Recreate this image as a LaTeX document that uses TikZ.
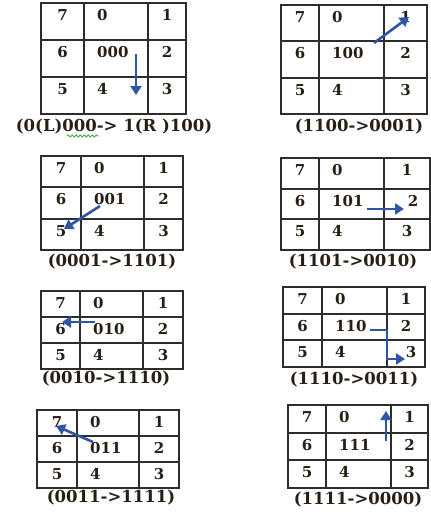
\documentclass[tikz,border=0pt]{standalone}
\usepackage{fontspec}
\setmainfont{DejaVu Serif}
\usetikzlibrary{arrows.meta,decorations.pathmorphing}
\definecolor{arrblue}{RGB}{47,85,164}
\definecolor{gridline}{RGB}{45,45,45}
\definecolor{txt}{RGB}{40,30,20}
\definecolor{spell}{RGB}{60,170,60}
\tikzset{
  cell/.style={font=\bfseries\fontsize{15}{15}\selectfont, text=txt, inner sep=0pt},
  captext/.style={font=\bfseries\fontsize{16.5}{16.5}\selectfont, text=txt, inner sep=0pt},
  gridl/.style={draw=gridline, line width=1.9pt},
  move/.style={draw=arrblue, line width=2.6pt, -{Triangle[length=9pt,width=11pt]}},
  squig/.style={draw=spell, line width=0.8pt, decorate, decoration={snake, amplitude=1pt, segment length=4pt}},
}
\def\shiftb{0}\def\shiftc{0}
% #1 prefix, #2..#5 column x, #6 top y, #7 bottom y, #8 centre label
\newcommand\mygrid[8]{%
  \pgfmathsetmacro\gya{#6}%
  \pgfmathsetmacro\gyd{#7}%
  \pgfmathsetmacro\gyb{#6+(#7-#6)/3}%
  \pgfmathsetmacro\gyc{#6+2*(#7-#6)/3}%
  \draw[gridl] (#2,\gya) rectangle (#5,\gyd);
  \draw[gridl] (#3,\gya) -- (#3,\gyd) (#4,\gya) -- (#4,\gyd)
               (#2,\gyb) -- (#5,\gyb) (#2,\gyc) -- (#5,\gyc);
  \node[cell] (#1-7) at ({(#2+#3)/2},\gya+12) {7};
  \node[cell] (#1-6) at ({(#2+#3)/2},\gyb+12) {6};
  \node[cell] (#1-5) at ({(#2+#3)/2},\gyc+12) {5};
  \node[cell,anchor=west] (#1-0) at (#3+13,\gya+12) {0};
  \node[cell,anchor=west] (#1-c) at (#3+13,\gyb+12) {#8};
  \node[cell,anchor=west] (#1-4) at (#3+13,\gyc+12) {4};
  \node[cell] (#1-1) at ({(#4+#5)/2},\gya+12) {1};
  \node[cell] (#1-2) at ({(#4+#5)/2+\shiftb},\gyb+12) {2};
  \node[cell] (#1-3) at ({(#4+#5)/2+\shiftc},\gyc+12) {3};
}
\begin{document}
\begin{tikzpicture}[x=1pt,y=-1pt]
\useasboundingbox[fill=white] (0,0) rectangle (431,512);
% grids
\mygrid{ga}{41}{84}{148}{186}{3}{114}{000}
\mygrid{gb}{281}{319}{384}{427}{5}{114}{100}
\mygrid{gc}{41}{81}{144}{183}{156}{250}{001}
\def\shiftb{6}
\mygrid{gd}{281}{319}{384}{430}{158}{250}{101}
\def\shiftb{0}
\mygrid{ge}{41}{80}{143}{183}{291}{369}{010}
\def\shiftc{5}
\mygrid{gf}{283}{322}{387}{425}{287}{367}{110}
\def\shiftc{0}
\mygrid{gg}{37}{77}{139}{179}{410}{488}{011}
\mygrid{gh}{288}{326}{391}{428}{405}{488}{111}
% captions
\node[captext] (ca) at (114,127) {(0(L)000-> 1(R )100)};
\node[captext] (cb) at (359,127) {(1100->0001)};
\node[captext] (cc) at (112,262) {(0001->1101)};
\node[captext] (cd) at (353,262) {(1101->0010)};
\node[captext] (ce) at (106,379) {(0010->1110)};
\node[captext] (cf) at (354,380) {(1110->0011)};
\node[captext] (cg) at (111,498) {(0011->1111)};
\node[captext] (ch) at (358,500) {(1111->0000)};
\coordinate (sqa) at (67,136);
\coordinate (sqb) at (99,136);
\draw[squig] (sqa) -- (sqb);
% arrows
\coordinate (a1) at (136,54);  \coordinate (a2) at (136,95);
\draw[move] (a1) -- (a2);
\coordinate (b1) at (374,43);  \coordinate (b2) at (409,17);
\draw[move] (b1) -- (b2);
\coordinate (c1) at (100,206); \coordinate (c2) at (64,229);
\draw[move] (c1) -- (c2);
\coordinate (d1) at (367,209); \coordinate (d2) at (404,209);
\draw[move] (d1) -- (d2);
\coordinate (e1) at (95,322);  \coordinate (e2) at (62,322);
\draw[move] (e1) -- (e2);
\coordinate (f1) at (370,330); \coordinate (fm) at (387,330);
\coordinate (fn) at (387,359); \coordinate (f2) at (405,359);
\draw[move] (f1) -- (fm) -- (fn) -- (f2);
\coordinate (g1) at (93,442);  \coordinate (g2) at (56,426);
\draw[move] (g1) -- (g2);
\coordinate (h1) at (386,441); \coordinate (h2) at (386,411);
\draw[move] (h1) -- (h2);
\end{tikzpicture}
\end{document}
